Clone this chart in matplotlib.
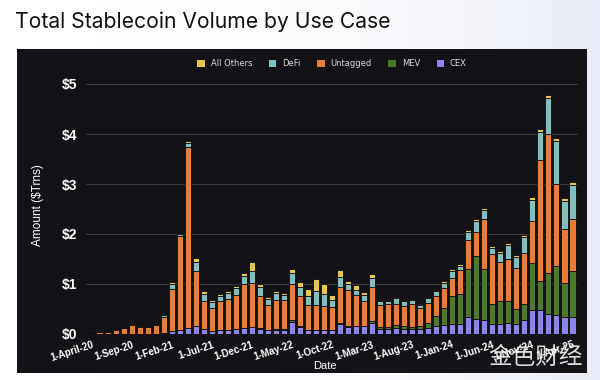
import matplotlib.pyplot as plt
import numpy as np
from matplotlib.patches import Rectangle

# monthly stablecoin volume ($ trillions), Apr-2020 .. Apr-2025
months = ['Apr-20', 'May-20', 'Jun-20', 'Jul-20', 'Aug-20', 'Sep-20', 'Oct-20', 'Nov-20', 'Dec-20',
          'Jan-21', 'Feb-21', 'Mar-21', 'Apr-21', 'May-21', 'Jun-21', 'Jul-21', 'Aug-21', 'Sep-21',
          'Oct-21', 'Nov-21', 'Dec-21', 'Jan-22', 'Feb-22', 'Mar-22', 'Apr-22', 'May-22', 'Jun-22',
          'Jul-22', 'Aug-22', 'Sep-22', 'Oct-22', 'Nov-22', 'Dec-22', 'Jan-23', 'Feb-23', 'Mar-23',
          'Apr-23', 'May-23', 'Jun-23', 'Jul-23', 'Aug-23', 'Sep-23', 'Oct-23', 'Nov-23', 'Dec-23',
          'Jan-24', 'Feb-24', 'Mar-24', 'Apr-24', 'May-24', 'Jun-24', 'Jul-24', 'Aug-24', 'Sep-24',
          'Oct-24', 'Nov-24', 'Dec-24', 'Jan-25', 'Feb-25', 'Mar-25', 'Apr-25']

cex = [0.00, 0.00, 0.00, 0.00, 0.01, 0.01, 0.01, 0.01, 0.01, 0.03, 0.06, 0.08, 0.12, 0.17, 0.10,
       0.07, 0.08, 0.08, 0.10, 0.13, 0.14, 0.10, 0.08, 0.09, 0.09, 0.25, 0.15, 0.08, 0.08, 0.08,
       0.08, 0.20, 0.15, 0.16, 0.16, 0.22, 0.10, 0.10, 0.13, 0.11, 0.10, 0.10, 0.13, 0.16, 0.19,
       0.20, 0.20, 0.35, 0.30, 0.28, 0.21, 0.21, 0.23, 0.21, 0.29, 0.49, 0.49, 0.41, 0.38, 0.35, 0.35]
mev = [0, 0, 0, 0, 0, 0, 0, 0, 0, 0, 0, 0, 0, 0, 0,
       0, 0, 0, 0, 0, 0, 0.02, 0.01, 0.01, 0.01, 0.03, 0.01, 0.01, 0.01, 0.01,
       0.01, 0.02, 0.01, 0.01, 0.01, 0.05, 0.04, 0.04, 0.06, 0.06, 0.04, 0.07, 0.10, 0.20, 0.34,
       0.56, 0.60, 0.96, 1.27, 1.02, 0.39, 0.45, 0.43, 0.30, 0.31, 0.94, 0.58, 0.82, 0.99, 0.68, 0.91]
untagged = [0.03, 0.04, 0.05, 0.09, 0.11, 0.17, 0.13, 0.14, 0.18, 0.31, 0.85, 1.88, 3.62, 1.10, 0.56,
            0.46, 0.58, 0.62, 0.69, 0.88, 0.88, 0.65, 0.49, 0.59, 0.58, 0.73, 0.61, 0.49, 0.49, 0.47,
            0.46, 0.72, 0.73, 0.61, 0.49, 0.68, 0.44, 0.46, 0.42, 0.40, 0.46, 0.36, 0.40, 0.40, 0.40,
            0.37, 0.48, 0.57, 0.48, 1.01, 1.00, 0.79, 0.85, 0.82, 1.03, 0.84, 2.41, 2.78, 1.64, 1.08, 1.05]
defi = [0, 0, 0, 0.01, 0.01, 0.03, 0.01, 0.01, 0.01, 0.05, 0.09, 0.04, 0.08, 0.18, 0.14,
        0.11, 0.10, 0.12, 0.13, 0.16, 0.24, 0.17, 0.12, 0.13, 0.11, 0.22, 0.17, 0.19, 0.28, 0.24,
        0.13, 0.21, 0.11, 0.10, 0.12, 0.18, 0.08, 0.07, 0.11, 0.09, 0.09, 0.06, 0.09, 0.10, 0.10,
        0.14, 0.09, 0.16, 0.21, 0.17, 0.13, 0.18, 0.28, 0.21, 0.31, 0.42, 0.57, 0.71, 0.86, 0.56, 0.68]
others = [0, 0, 0, 0, 0, 0.02, 0.01, 0.01, 0.01, 0.02, 0.05, 0.03, 0.05, 0.08, 0.06,
          0.04, 0.04, 0.04, 0.04, 0.06, 0.18, 0.06, 0.05, 0.05, 0.04, 0.08, 0.11, 0.14, 0.25, 0.20,
          0.10, 0.14, 0.06, 0.10, 0.06, 0.07, 0.03, 0.02, 0.03, 0.02, 0.02, 0.02, 0.03, 0.03, 0.03,
          0.04, 0.04, 0.04, 0.05, 0.05, 0.04, 0.04, 0.04, 0.04, 0.05, 0.06, 0.06, 0.07, 0.06, 0.06, 0.06]

tick_idx = list(range(0, 61, 5))
tick_labels = ['1-April-20', '1-Sep-20', '1-Feb-21', '1-Jul-21', '1-Dec-21', '1-May-22', '1-Oct-22',
               '1-Mar-23', '1-Aug-23', '1-Jan-24', '1-Jun-24', '1-Nov-24', '1-Apr-25']

series = [('CEX', cex, '#8b84f2'), ('MEV', mev, '#4c7a2b'), ('Untagged', untagged, '#ee7a33'),
          ('DeFi', defi, '#7fc0be'), ('All Others', others, '#eac54b')]

fig = plt.figure(figsize=(6, 3.8), dpi=100)

# light background gradient behind everything
bg = fig.add_axes([0, 0, 1, 1], zorder=-2)
grad = np.linspace(0, 1, 256)[None, :] ** 3
bg.imshow(grad, aspect='auto', cmap=plt.matplotlib.colors.LinearSegmentedColormap.from_list(
    'g', ['#ffffff', '#e9ecf7']), extent=[0, 1, 0, 1])
bg.axis('off')

# dark panel
fig.patches.append(Rectangle((17 / 600, 7 / 380), 570 / 600, 324 / 380, transform=fig.transFigure,
                             facecolor='#131317', edgecolor='none', zorder=-1))

fig.text(15 / 600, 1 - 22 / 380, 'Total Stablecoin Volume by Use Case', fontsize=15.2,
         family='Inter', color='#111111', va='center', ha='left')

ax = fig.add_axes([86 / 600, 46 / 380, 492 / 600, 260 / 380])
ax.set_facecolor('none')
x = np.arange(len(months))
bottom = np.zeros(len(months))
handles = {}
for name, vals, col in series:
    vals = np.array(vals)
    handles[name] = ax.bar(x, vals, 0.78, bottom=bottom, color=col, edgecolor='#0b0b0d',
                           linewidth=0.6, zorder=3)
    bottom += vals

ax.set_xlim(-0.7, 60.7)
ax.set_ylim(0, 5.2)
ax.set_yticks([0, 1, 2, 3, 4, 5])
ax.set_yticklabels(['$0', '$1', '$2', '$3', '$4', '$5'], fontsize=10, fontweight='bold',
                   color='white', family='Liberation Sans')
ax.set_xticks(tick_idx)
ax.set_xticklabels(tick_labels, rotation=18, ha='right', rotation_mode='anchor', fontsize=7,
                   fontweight='bold', color='white', family='Liberation Sans')
ax.tick_params(axis='y', length=0, pad=6)
ax.tick_params(axis='x', length=0, pad=4)
ax.grid(axis='y', color='#3a3a40', linewidth=0.8, zorder=0)
for s in ax.spines.values():
    s.set_visible(False)
ax.axhline(0, color='#55555c', linewidth=0.8, zorder=2)

fig.text(38 / 600, 1 - 205 / 380, 'Amount ($Trns)', rotation=90, fontsize=8.5, color='white',
         family='Liberation Sans', ha='center', va='center')
fig.text(325 / 600, 1 - 366 / 380, 'Date', fontsize=8, color='white', family='Liberation Sans',
         ha='center', va='center')

order = ['All Others', 'DeFi', 'Untagged', 'MEV', 'CEX']
leg = ax.legend([handles[n] for n in order], order, loc='upper center', bbox_to_anchor=(0.5, 1.085),
                ncol=5, frameon=False, fontsize=6, handlelength=0.9, handleheight=0.9,
                columnspacing=2.0, handletextpad=0.7, labelcolor='#d8d8d8')
for h in leg.legend_handles:
    h.set_edgecolor('none')

fig.text(583 / 600, 1 - 357 / 380, '金色财经', fontsize=17, color='#f2f2f2',
         family=['Noto Sans CJK SC', 'DejaVu Sans'], ha='right', va='center', alpha=0.9)

fig.savefig('out.png', dpi=100)
